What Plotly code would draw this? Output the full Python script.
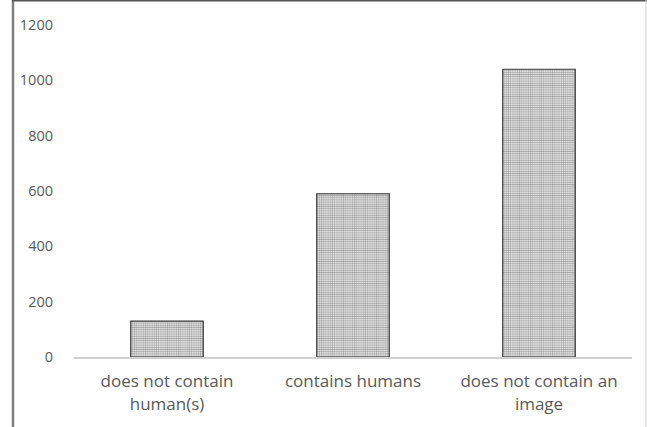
import plotly.graph_objects as go

categories = ["does not contain<br>human(s)", "contains humans", "does not contain an<br>image"]
values = [130, 590, 1040]
y_ticks = [0, 200, 400, 600, 800, 1000, 1200]

W, H = 647, 427
ml, mr, mt, mb = 74, 15, 25, 70
pw = W - ml - mr
ph = H - mt - mb

def px_x(x):
    return (x - ml) / pw

def px_y(y):
    return (H - mb - y) / ph

fig = go.Figure(go.Bar(
    x=categories, y=values,
    marker=dict(
        color="#8c8c8c",
        line=dict(color="#3a3a3a", width=1.2),
        pattern=dict(shape=".", fgcolor="#4a4a4a", bgcolor="#f4f4f4", size=2.2, solidity=0.55),
    ),
    width=0.39,
))

fig.update_layout(
    width=W, height=H,
    margin=dict(l=ml, r=mr, t=mt, b=mb),
    plot_bgcolor="white", paper_bgcolor="white",
    font=dict(family="Open Sans, Noto Sans, sans-serif", color="#595959", size=14),
    showlegend=False,
    xaxis=dict(showline=True, linecolor="#d0d0d0", linewidth=2, ticks="",
               tickfont=dict(size=17), showgrid=False, ticklabelstandoff=8),
    yaxis=dict(range=[0, 1200], tickvals=y_ticks, showgrid=False, showline=False,
               zeroline=False, ticks="", tickfont=dict(size=14.5), ticklabelstandoff=20),
    shapes=[
        dict(type="line", xref="paper", yref="paper", x0=px_x(13), x1=px_x(13),
             y0=px_y(430), y1=px_y(0), line=dict(color="#7f7f7f", width=2.5)),
        dict(type="line", xref="paper", yref="paper", x0=px_x(12), x1=px_x(647),
             y0=px_y(0.5), y1=px_y(0.5), line=dict(color="#555555", width=2)),
        dict(type="line", xref="paper", yref="paper", x0=px_x(646), x1=px_x(646),
             y0=px_y(430), y1=px_y(0), line=dict(color="#d0d0d0", width=1)),
    ],
)

fig.write_html("out.html", config={"displayModeBar": False},
               post_script="document.body.style.margin='0';")
